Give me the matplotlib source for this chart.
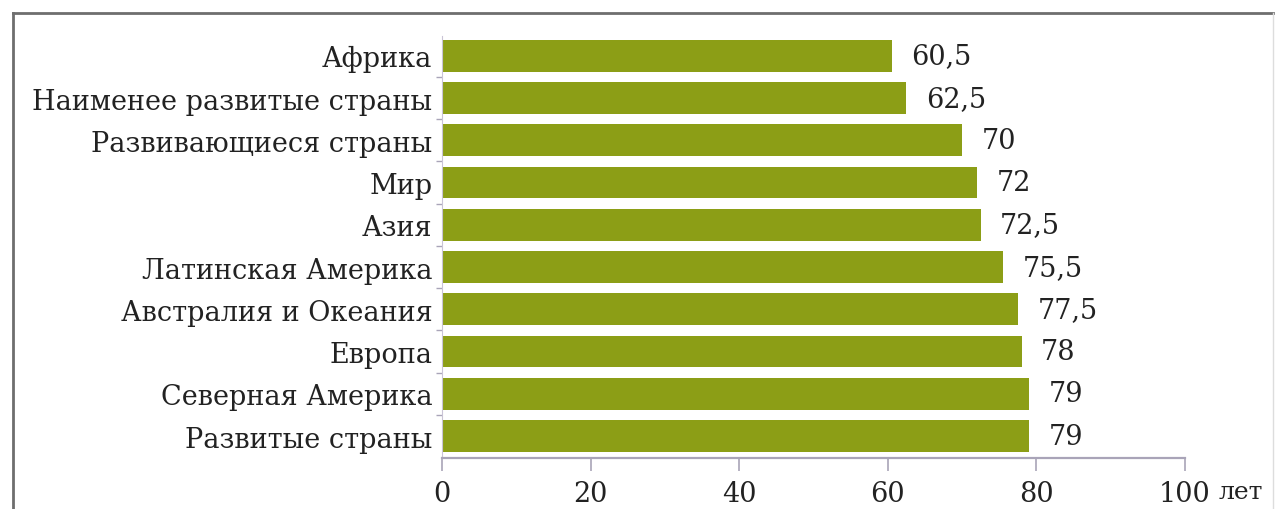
import matplotlib
matplotlib.use("Agg")
import matplotlib.pyplot as plt
from matplotlib.lines import Line2D
import numpy as np

# Life expectancy by region, years
regions = [
    "Африка",
    "Наименее развитые страны",
    "Развивающиеся страны",
    "Мир",
    "Азия",
    "Латинская Америка",
    "Австралия и Океания",
    "Европа",
    "Северная Америка",
    "Развитые страны",
]
life_years = [60.5, 62.5, 70, 72, 72.5, 75.5, 77.5, 78, 79, 79]
x_ticks = [0, 20, 40, 60, 80, 100]
unit_label = "лет"

plt.rcParams["font.family"] = ["DejaVu Serif"]

W, H, DPI = 1275, 510, 100
fig = plt.figure(figsize=(W / DPI, H / DPI), dpi=DPI)
fig.patch.set_facecolor("white")

# Axes placement in pixels
left_px, right_px, top_px, bottom_px = 442, 1185, 37, 459
ax = fig.add_axes([left_px / W, 1 - bottom_px / H,
                   (right_px - left_px) / W, (bottom_px - top_px) / H])

bar_color = "#8c9e16"
text_color = "#222222"
axis_color = "#a9a4b8"
fs = 19.5
fw = "medium"

y = np.arange(len(regions))
ax.barh(y, life_years, height=0.75, color=bar_color, edgecolor="none")

def fmt(v):
    s = f"{v:g}"
    return s.replace(".", ",")

for yi, v in zip(y, life_years):
    ax.annotate(fmt(v), xy=(v, yi), xytext=(14, 0), textcoords="offset points",
                ha="left", va="center", fontsize=fs, fontweight=fw,
                color=text_color)

ax.set_xlim(0, 100)
ax.set_ylim(9.52, -0.47)

ax.set_yticks(y)
ax.set_yticklabels(regions, fontsize=fs, fontweight=fw, color=text_color)
ax.set_yticks(np.arange(len(regions) - 1) + 0.5, minor=True)
ax.tick_params(axis="y", which="major", length=0, pad=7)
ax.tick_params(axis="y", which="minor", length=4, width=1, color=axis_color)

ax.set_xticks(x_ticks)
ax.set_xticklabels([str(t) for t in x_ticks], fontsize=fs, fontweight=fw,
                   color=text_color)
ax.tick_params(axis="x", which="major", length=9, width=1.2, color=axis_color,
               direction="out", pad=7)

for side in ["top", "right"]:
    ax.spines[side].set_visible(False)
ax.spines["bottom"].set_color(axis_color)
ax.spines["bottom"].set_linewidth(1.6)
ax.spines["left"].set_color("#c9c4d6")
ax.spines["left"].set_linewidth(0.8)

# Unit label next to the last tick, on the tick-label line
ax.annotate(unit_label, xy=(100, 0), xycoords=("data", "axes fraction"),
            xytext=(24, -16), textcoords="offset points",
            ha="left", va="top", fontsize=18, fontweight=fw,
            color=text_color)

# Outer frame
fig.add_artist(Line2D([13 / W, 1273 / W], [1 - 14 / H, 1 - 14 / H],
                      transform=fig.transFigure, color="#6e6e6e", lw=2))
fig.add_artist(Line2D([13 / W, 13 / W], [0, 1 - 14 / H],
                      transform=fig.transFigure, color="#6e6e6e", lw=2))
fig.add_artist(Line2D([1273 / W, 1273 / W], [0, 1 - 14 / H],
                      transform=fig.transFigure, color="#dddddd", lw=1))

fig.savefig("out.png", dpi=DPI, facecolor="white")
